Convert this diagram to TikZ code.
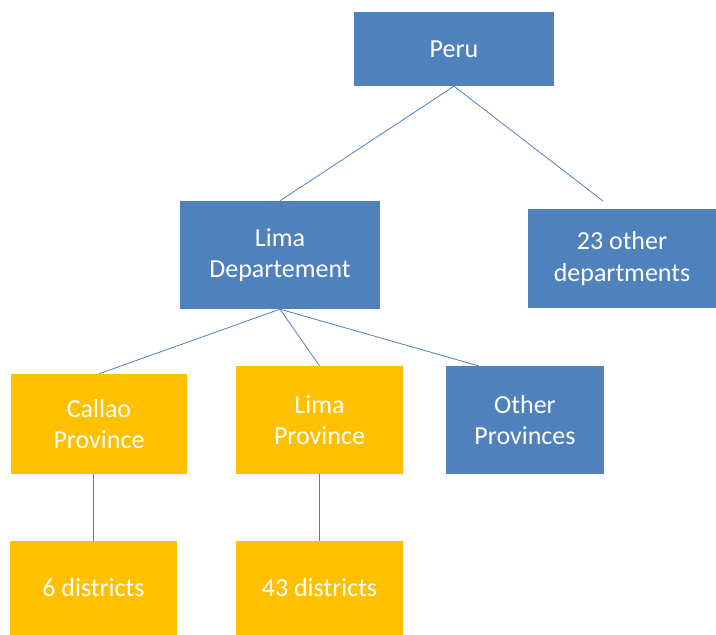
\documentclass[tikz,border=0pt]{standalone}
\usepackage{fontspec}
\setmainfont{Carlito}
\usepackage{xcolor}
\usepackage{tikz}
\definecolor{boxblue}{HTML}{4F81BD}
\definecolor{boxgold}{HTML}{FFC000}

\begin{document}
\begin{tikzpicture}[
  x=1pt, y=-1pt,
  every node/.style={rectangle, text=white, align=center, inner sep=0pt,
    font=\fontsize{26}{31.5}\selectfont},
  bluebox/.style={fill=boxblue},
  goldbox/.style={fill=boxgold},
  link/.style={draw=boxblue, line width=0.8pt}
]
  \useasboundingbox (0,0) rectangle (716,635);
  \node[bluebox, minimum width=200pt, minimum height=74pt] (peru) at (454,49) {Peru};
  \node[bluebox, minimum width=200pt, minimum height=108pt] (limadep) at (280,255) {Lima\\Departement};
  \node[bluebox, minimum width=188pt, minimum height=99pt] (otherdep) at (622,258.5) {23 other\\departments};
  \node[goldbox, minimum width=176pt, minimum height=100pt] (callao) at (99,424) {Callao\\Province};
  \node[goldbox, minimum width=167pt, minimum height=108pt] (limaprov) at (319.5,420) {Lima\\Province};
  \node[bluebox, minimum width=158pt, minimum height=108pt] (otherprov) at (525,420) {Other\\Provinces};
  \node[goldbox, minimum width=167pt, minimum height=94pt] (callaodist) at (93.5,588) {6 districts};
  \node[goldbox, minimum width=167pt, minimum height=94pt] (limadist) at (319.5,588) {43 districts};
  \coordinate (otherdeptop) at (603,201);
  \coordinate (otherprovtop) at (479,366);

  \draw[link] (peru.south) -- (limadep.north);
  \draw[link] (peru.south) -- (otherdeptop);
  \draw[link] (limadep.south) -- (callao.north);
  \draw[link] (limadep.south) -- (limaprov.north);
  \draw[link] (limadep.south) -- (otherprovtop);
  \draw[link] (callaodist.north |- callao.south) -- (callaodist.north);
  \draw[link] (limaprov.south) -- (limadist.north);
\end{tikzpicture}
\end{document}
